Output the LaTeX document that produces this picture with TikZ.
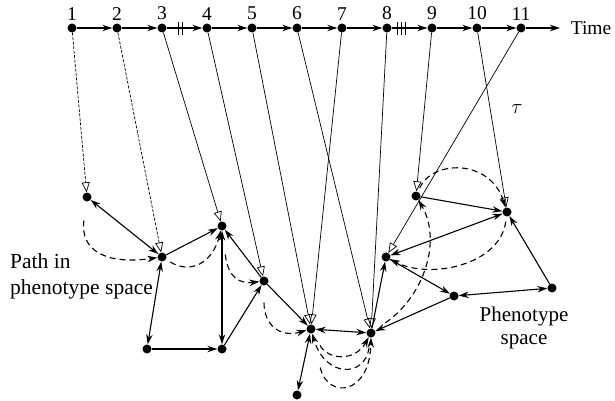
\documentclass[tikz,border=0pt]{standalone}
\usepackage{fontspec}
\setmainfont{Liberation Serif}
\usetikzlibrary{arrows.meta}

\begin{document}
\begin{tikzpicture}[x=1pt,y=-1pt,
    dot/.style={circle,fill,inner sep=0pt,minimum size=9pt},
    link/.style={line width=1.1pt,-{Stealth[length=10pt,width=6.5pt]}},
    twoway/.style={line width=1.1pt,{Stealth[length=10pt,width=6.5pt]}-{Stealth[length=10pt,width=6.5pt]}},
    map/.style={line width=0.7pt,-{Triangle[open,length=10pt,width=8pt]}},
    walk/.style={line width=1.1pt,dash pattern=on 6pt off 4pt,-{Stealth[length=10pt,width=6.5pt]}},
    lbl/.style={font=\fontsize{19.5}{20}\selectfont}]
    \useasboundingbox (0,0) rectangle (615,401);

    % Time axis
    \foreach \i/\x in {1/72,2/117,3/162,4/207,5/252,6/297,7/342,8/387,9/432,10/477,11/521}
        \node[dot,label={[lbl,inner sep=1pt,label distance=2pt]above:\i}] (t\i) at (\x,28) {};
    \foreach \i [evaluate=\i as \j using int(\i+1)] in {1,...,10}
        \draw[link] (t\i) -- (t\j);
    \coordinate (tend) at (560,28);
    \draw[link] (t11) -- (tend);
    \node[lbl] (time) at (591,28) {Time};
    % breaks in time
    \draw[line width=0.8pt] (178,22) -- (178,35) (182,22) -- (182,35);
    \draw[line width=0.8pt] (397,22) -- (397,35) (401,22) -- (401,35) (405,22) -- (405,35);

    % Phenotypes
    \node[dot] (p1) at (87,197) {};
    \node[dot] (p2) at (162,257) {};
    \node[dot] (p3) at (222,226) {};
    \node[dot] (p4) at (264,281) {};
    \node[dot] (p5) at (311,329) {};
    \node[dot] (p6) at (371,333) {};
    \node[dot] (p9) at (416,196) {};
    \node[dot] (p10) at (507,212) {};
    \node[dot] (p11) at (386,257) {};
    \node[dot] (q1) at (147,349) {};
    \node[dot] (q2) at (222,349) {};
    \node[dot] (q3) at (297,395) {};
    \node[dot] (q4) at (454,296) {};
    \node[dot] (q5) at (552,288) {};

    % Time points mapped to phenotypes
    \draw[map,dash pattern=on 3pt off 1.5pt] (t1) -- (p1);
    \draw[map,dash pattern=on 3pt off 1.5pt] (t2) -- (p2);
    \foreach \i/\p in {3/p3,4/p4,5/p5,6/p6,7/p5,8/p6,9/p9,10/p10,11/p11}
        \draw[map] (t\i) -- (\p);

    % Neighbours in phenotype space
    \draw[twoway] (p1) -- (p2);
    \draw[link] (p2) -- (p3);
    \draw[twoway] (p2) -- (q1);
    \draw[link] (q1) -- (q2);
    \draw[twoway] (q2) -- (p3);
    \draw[link] (q2) -- (p4);
    \draw[link] (p4) -- (p3);
    \draw[link] (p4) -- (p5);
    \draw[twoway] (p5) -- (p6);
    \draw[twoway] (p5) -- (q3);
    \draw[link] (p6) -- (p11);
    \draw[link] (p11) -- (q4);
    \draw[link] (q4) -- (p6);
    \draw[twoway] (q4) -- (q5);
    \draw[link] (q5) -- (p10);
    \draw[link] (p9) -- (p10);
    \draw[twoway] (p11) -- (p10);

    % Path taken
    \draw[walk,shorten <=19pt] (p1) .. controls (80,250) and (105,265) .. (p2);
    \draw[walk,shorten <=5pt] (p2) .. controls (190,274) and (212,264) .. (p3);
    \draw[walk,shorten <=24pt] (p3) .. controls (228,278) and (240,284) .. (p4);
    \draw[walk,shorten <=17pt] (p4) .. controls (264,325) and (280,338) .. (p5);
    \draw[walk,shorten <=14pt] (p5) .. controls (328,360) and (355,362) .. (p6);
    \draw[walk,shorten <=10pt] (p6) .. controls (365,378) and (325,378) .. (p5);
    \draw[walk,shorten <=35pt] (p5) .. controls (328,400) and (370,395) .. (p6);
    \draw[walk,shorten <=13pt] (p6) .. controls (425,295) and (442,240) .. (p9);
    \draw[walk,shorten <=4pt] (p9) .. controls (432,160) and (490,158) .. (p10);
    \draw[walk,shorten <=5pt] (p10) .. controls (500,265) and (430,280) .. (p11);

    % Labels
    \node[font=\fontsize{21.5}{26}\selectfont,align=left,anchor=west,inner sep=0pt] (pathlbl) at (10,276) {Path in\\phenotype space};
    \node[font=\fontsize{21}{23}\selectfont,align=center,inner sep=0pt] (spacelbl) at (524,328) {Phenotype\\space};
    \node[lbl] (tau) at (517,109) {$\tau$};
\end{tikzpicture}
\end{document}
